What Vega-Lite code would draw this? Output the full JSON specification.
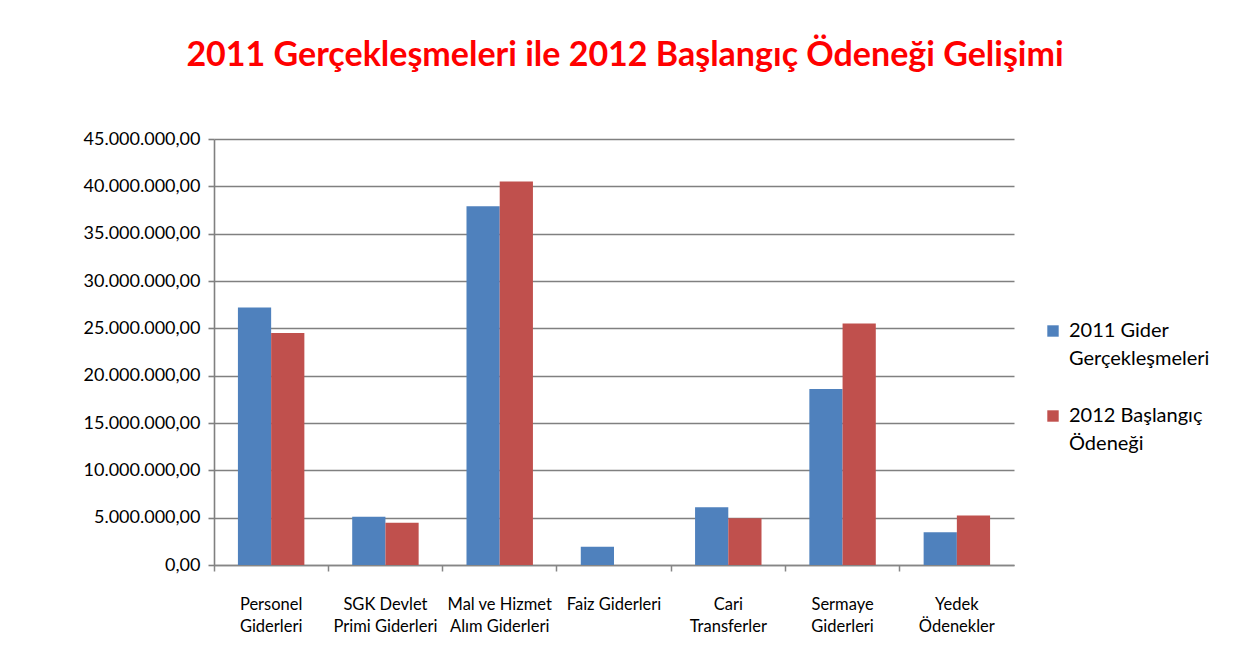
{
  "$schema": "https://vega.github.io/schema/vega-lite/v6.json",
  "width": 800,
  "height": 426,
  "autosize": {"type": "none"},
  "padding": {"left": 214, "top": 139, "right": 236, "bottom": 84},
  "background": "white",
  "config": {
    "locale": {"number": {"decimal": ",", "thousands": ".", "grouping": [3], "currency": ["", ""]}},
    "font": "Lato",
    "view": {"stroke": null},
    "style": {"guide-label": {"lineHeight": 28}}
  },
  "title": {
    "text": "2011 Gerçekleşmeleri ile 2012 Başlangıç Ödeneği Gelişimi",
    "color": "#FF0000",
    "fontSize": 34,
    "fontWeight": "bold",
    "font": "Lato",
    "anchor": "middle",
    "frame": "group",
    "dx": 11,
    "offset": 57
  },
  "data": {
    "values": [
      {"kalem": "Personel Giderleri", "seri": "2011 Gider Gerçekleşmeleri", "tutar": 27200000},
      {"kalem": "Personel Giderleri", "seri": "2012 Başlangıç Ödeneği", "tutar": 24500000},
      {"kalem": "SGK Devlet Primi Giderleri", "seri": "2011 Gider Gerçekleşmeleri", "tutar": 5100000},
      {"kalem": "SGK Devlet Primi Giderleri", "seri": "2012 Başlangıç Ödeneği", "tutar": 4470000},
      {"kalem": "Mal ve Hizmet Alım Giderleri", "seri": "2011 Gider Gerçekleşmeleri", "tutar": 37900000},
      {"kalem": "Mal ve Hizmet Alım Giderleri", "seri": "2012 Başlangıç Ödeneği", "tutar": 40500000},
      {"kalem": "Faiz Giderleri", "seri": "2011 Gider Gerçekleşmeleri", "tutar": 1940000},
      {"kalem": "Faiz Giderleri", "seri": "2012 Başlangıç Ödeneği", "tutar": 0},
      {"kalem": "Cari Transferler", "seri": "2011 Gider Gerçekleşmeleri", "tutar": 6090000},
      {"kalem": "Cari Transferler", "seri": "2012 Başlangıç Ödeneği", "tutar": 4930000},
      {"kalem": "Sermaye Giderleri", "seri": "2011 Gider Gerçekleşmeleri", "tutar": 18600000},
      {"kalem": "Sermaye Giderleri", "seri": "2012 Başlangıç Ödeneği", "tutar": 25500000},
      {"kalem": "Yedek Ödenekler", "seri": "2011 Gider Gerçekleşmeleri", "tutar": 3450000},
      {"kalem": "Yedek Ödenekler", "seri": "2012 Başlangıç Ödeneği", "tutar": 5240000}
    ]
  },
  "mark": {"type": "bar"},
  "encoding": {
    "x": {
      "field": "kalem",
      "type": "nominal",
      "sort": null,
      "scale": {"paddingInner": 0, "paddingOuter": 0},
      "axis": {
        "title": null,
        "labelAngle": 0,
        "labelFontSize": 16.5,
        "labelColor": "#000000",
        "labelPadding": 25,
        "labelLineHeight": 22,
        "labelExpr": "{'Personel Giderleri': ['Personel', 'Giderleri'], 'SGK Devlet Primi Giderleri': ['SGK Devlet', 'Primi Giderleri'], 'Mal ve Hizmet Alım Giderleri': ['Mal ve Hizmet', 'Alım Giderleri'], 'Faiz Giderleri': ['Faiz Giderleri'], 'Cari Transferler': ['Cari', 'Transferler'], 'Sermaye Giderleri': ['Sermaye', 'Giderleri'], 'Yedek Ödenekler': ['Yedek', 'Ödenekler']}[datum.label]",
        "bandPosition": 0,
        "domainColor": "#868686",
        "domainWidth": 1.5,
        "tickColor": "#868686",
        "tickWidth": 1.5,
        "tickSize": 6,
        "grid": false
      }
    },
    "xOffset": {
      "field": "seri",
      "type": "nominal",
      "scale": {"paddingInner": 0, "paddingOuter": 0.72}
    },
    "y": {
      "field": "tutar",
      "type": "quantitative",
      "scale": {"domain": [0, 45000000], "nice": false},
      "axis": {
        "title": null,
        "values": [0, 5000000, 10000000, 15000000, 20000000, 25000000, 30000000, 35000000, 40000000, 45000000],
        "format": ",.2f",
        "labelFontSize": 18,
        "labelColor": "#000000",
        "labelPadding": 8,
        "domainColor": "#808080",
        "domainWidth": 1.6,
        "tickColor": "#808080",
        "tickWidth": 1.6,
        "tickSize": 6,
        "gridColor": "#808080",
        "gridWidth": 1.6
      }
    },
    "color": {
      "field": "seri",
      "type": "nominal",
      "scale": {"domain": ["2011 Gider Gerçekleşmeleri", "2012 Başlangıç Ödeneği"], "range": ["#4F81BD", "#C0504D"]},
      "legend": {
        "title": null,
        "orient": "none",
        "legendX": 829,
        "legendY": 182,
        "symbolType": "square",
        "symbolSize": 130,
        "symbolStrokeWidth": 0,
        "labelFontSize": 20,
        "labelColor": "#000000",
        "labelOffset": 6,
        "rowPadding": 37,
        "labelExpr": "{'2011 Gider Gerçekleşmeleri': ['2011 Gider', 'Gerçekleşmeleri'], '2012 Başlangıç Ödeneği': ['2012 Başlangıç', 'Ödeneği']}[datum.label]"
      }
    }
  }
}
